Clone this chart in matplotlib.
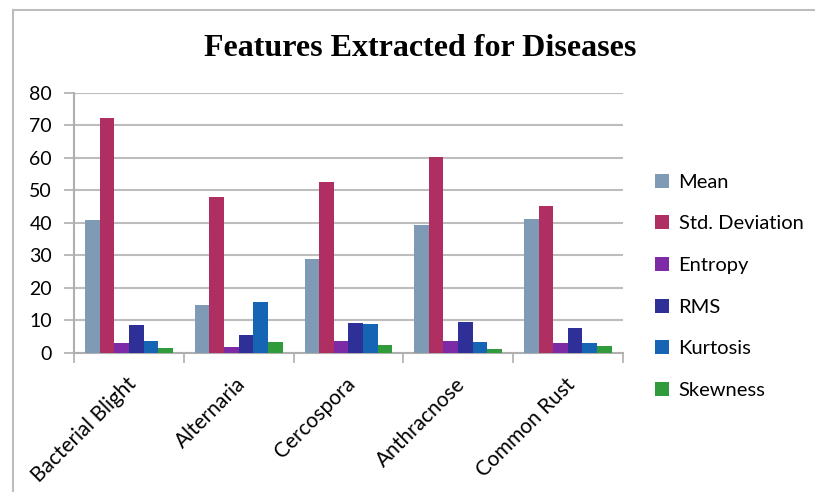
import numpy as np
import matplotlib
matplotlib.use("Agg")
import matplotlib.pyplot as plt
from matplotlib.lines import Line2D
from matplotlib.transforms import ScaledTranslation

# Feature values per disease class
diseases = ["Bacterial Blight", "Alternaria", "Cercospora", "Anthracnose", "Common Rust"]
mean_vals = [41.0, 14.8, 28.8, 39.3, 41.2]
std_vals = [72.1, 48.0, 52.6, 60.1, 45.1]
entropy_vals = [3.0, 1.8, 3.8, 3.8, 3.1]
rms_vals = [8.5, 5.5, 9.3, 9.5, 7.6]
kurtosis_vals = [3.6, 15.7, 8.8, 3.5, 3.1]
skewness_vals = [1.5, 3.5, 2.5, 1.3, 2.3]

features = ["Mean", "Std. Deviation", "Entropy", "RMS", "Kurtosis", "Skewness"]
series = [mean_vals, std_vals, entropy_vals, rms_vals, kurtosis_vals, skewness_vals]
colors = ["#7F9AB4", "#B02F62", "#7D2AA6", "#2E3098", "#1565B4", "#2F9B3A"]

plt.rcParams["font.family"] = ["Lato", "DejaVu Sans"]

fig = plt.figure(figsize=(8.15, 4.92), dpi=100)
ax = fig.add_axes([0.091, 0.2825, 0.673, 0.529])

x = np.arange(len(diseases))
n = len(series)
width = 0.8 / n
for i, (name, vals, c) in enumerate(zip(features, series, colors)):
    ax.bar(x - 0.4 + width * (i + 0.5), vals, width, color=c, label=name, zorder=3)

ax.set_xlim(-0.5, len(diseases) - 0.5)
ax.set_ylim(0, 80)
ax.set_yticks(range(0, 81, 10))
ax.yaxis.grid(True, color="#BDBDBD", linewidth=1.5, zorder=0)
ax.tick_params(axis="y", labelsize=14, length=7, width=1.2, color="#AFAFAF", pad=9)

# category ticks sit on the boundaries between groups
ax.set_xticks(np.arange(-0.5, len(diseases)), minor=False)
ax.set_xticklabels([])
ax.set_xticks(x, minor=True)
ax.set_xticklabels(diseases, minor=True, rotation=45, ha="right", va="top",
                   rotation_mode="anchor", fontsize=15)
ax.tick_params(axis="x", which="major", length=7, width=1.2, color="#AFAFAF")
ax.tick_params(axis="x", which="minor", length=0, pad=0)
shift = ScaledTranslation(-0.03, -0.21, fig.dpi_scale_trans)
for lbl in ax.get_xticklabels(minor=True):
    lbl.set_transform(lbl.get_transform() + shift)

for s in ["top", "right"]:
    ax.spines[s].set_visible(False)
for s in ["left", "bottom"]:
    ax.spines[s].set_color("#AFAFAF")
    ax.spines[s].set_linewidth(1.5)

fig.suptitle("Features Extracted for Diseases", x=0.515, y=0.93,
             family="Liberation Serif", fontweight="bold", fontsize=23)

ax.legend(loc="upper left", bbox_to_anchor=(1.045, 0.72), frameon=False,
          fontsize=14.5, handlelength=0.7, handleheight=0.7, handletextpad=0.45,
          labelspacing=1.22, borderaxespad=0)

# outer chart frame (top and left edges)
fig.add_artist(Line2D([0.016, 1.0], [0.979, 0.979], color="#BDBDBD", linewidth=1.5))
fig.add_artist(Line2D([0.016, 0.016], [0.0, 0.979], color="#BDBDBD", linewidth=1.5))

fig.savefig("out.png", dpi=100, facecolor="white")
